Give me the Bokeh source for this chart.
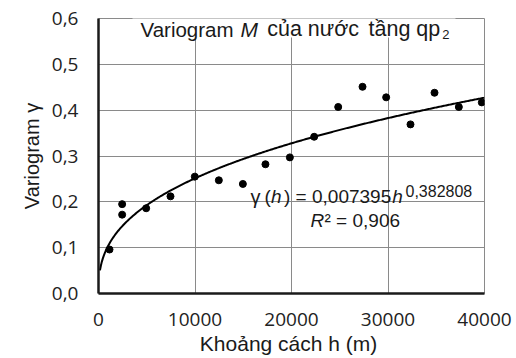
import numpy as np
from bokeh.plotting import figure
from bokeh.models import Range1d, FixedTicker, CustomJSTickFormatter, Label, BoxAnnotation
from bokeh.embed import file_html
from bokeh.resources import INLINE

# ---- data ----
lag_h = [1140, 2450, 2450, 4940, 7460, 9980, 12470, 14960, 17300, 19830,
         22350, 24840, 27360, 29810, 32330, 34820, 37340, 39720]
gamma = [0.096, 0.195, 0.172, 0.186, 0.212, 0.255, 0.247, 0.239, 0.282, 0.297,
         0.342, 0.407, 0.451, 0.428, 0.369, 0.438, 0.407, 0.417]
fit_a = 0.007395
fit_b = 0.382808
x_ticks = [0, 10000, 20000, 30000, 40000]
y_ticks = [0.0, 0.1, 0.2, 0.3, 0.4, 0.5, 0.6]

W, H = 516, 358
p = figure(width=W, height=H, output_backend="svg", toolbar_location=None,
           x_range=Range1d(0, 40000), y_range=Range1d(0, 0.6),
           min_border_left=98, min_border_right=32, min_border_top=18, min_border_bottom=65)
p.background_fill_color = "white"
p.border_fill_color = "white"
p.outline_line_color = "#8a8a8a"
p.outline_line_width = 1

# picture px -> data helpers (for text placement)
def X(px):
    return (px - 98) / 386 * 40000

def Y(py):
    return (293 - py) / 275 * 0.6

for ax in (p.xaxis[0], p.yaxis[0]):
    ax.axis_line_color = "#1a1a1a"
    ax.axis_line_width = 2.5
    ax.major_tick_line_color = None
    ax.minor_tick_line_color = None
    ax.major_tick_in = 0
    ax.major_tick_out = 0
    ax.major_label_text_font = "Open Sans"
    ax.major_label_text_font_size = "19px"
    ax.major_label_text_color = "#222222"
    ax.axis_label_text_font = "Liberation Sans"
    ax.axis_label_text_font_style = "normal"
    ax.axis_label_text_color = "#1a1a1a"

p.xaxis.ticker = FixedTicker(ticks=x_ticks)
p.yaxis.ticker = FixedTicker(ticks=y_ticks)
p.yaxis.formatter = CustomJSTickFormatter(code="return tick.toFixed(1).replace('.', ',');")
p.xaxis.formatter = CustomJSTickFormatter(code="return tick.toFixed(0);")
p.xaxis.major_label_standoff = 19
p.yaxis.major_label_standoff = 20

p.yaxis.axis_label = "Variogram γ"
p.yaxis.axis_label_text_font_size = "20px"
p.yaxis.axis_label_standoff = 6

p.xaxis.axis_label = "Khoảng  cách h (m)"
p.xaxis.axis_label_text_font_size = "21px"
p.xaxis.axis_label_standoff = 3

p.xgrid.ticker = FixedTicker(ticks=x_ticks)
p.ygrid.ticker = FixedTicker(ticks=y_ticks)
p.grid.grid_line_color = "#8a8a8a"
p.grid.grid_line_width = 1

# trend line from the fitted equation
h_fit = np.linspace(150, 40000, 400)
g_fit = fit_a * h_fit ** fit_b
p.line(h_fit, g_fit, line_color="black", line_width=2)

p.scatter(lag_h, gamma, size=7, color="black")

# title background box
p.add_layout(BoxAnnotation(left=X(132), right=X(455), top=Y(12), bottom=Y(37),
                           fill_color="white", fill_alpha=1.0, line_color=None))

def lab(text, px, py, size, style="normal", font="Liberation Sans"):
    p.add_layout(Label(x=X(px), y=Y(py), text=text, text_font=font,
                       text_font_size=f"{size}px", text_font_style=style,
                       text_color="#1a1a1a", text_align="left", text_baseline="alphabetic"))

# title
lab("Variogram", 140, 28.5, 20.5)
lab("M", 240, 28.5, 21, "italic")
lab("của nước", 266.7, 28.5, 21.5)
lab("tầng qp", 368, 28.5, 21.5)
lab("2", 441.7, 34, 13)

# equation
lab("γ", 250, 196, 20)
lab("(", 264, 196, 19)
lab("h", 270.5, 196, 19, "italic")
lab(") = 0,007395", 283.5, 196, 19)
lab("h", 391.7, 196, 19, "italic")
lab("0,382808", 405, 190, 16)
lab("R", 310, 219.5, 19, "italic")
lab("² = 0,906", 324, 219.5, 19)

open("out.html", "w").write(file_html(p, INLINE))
